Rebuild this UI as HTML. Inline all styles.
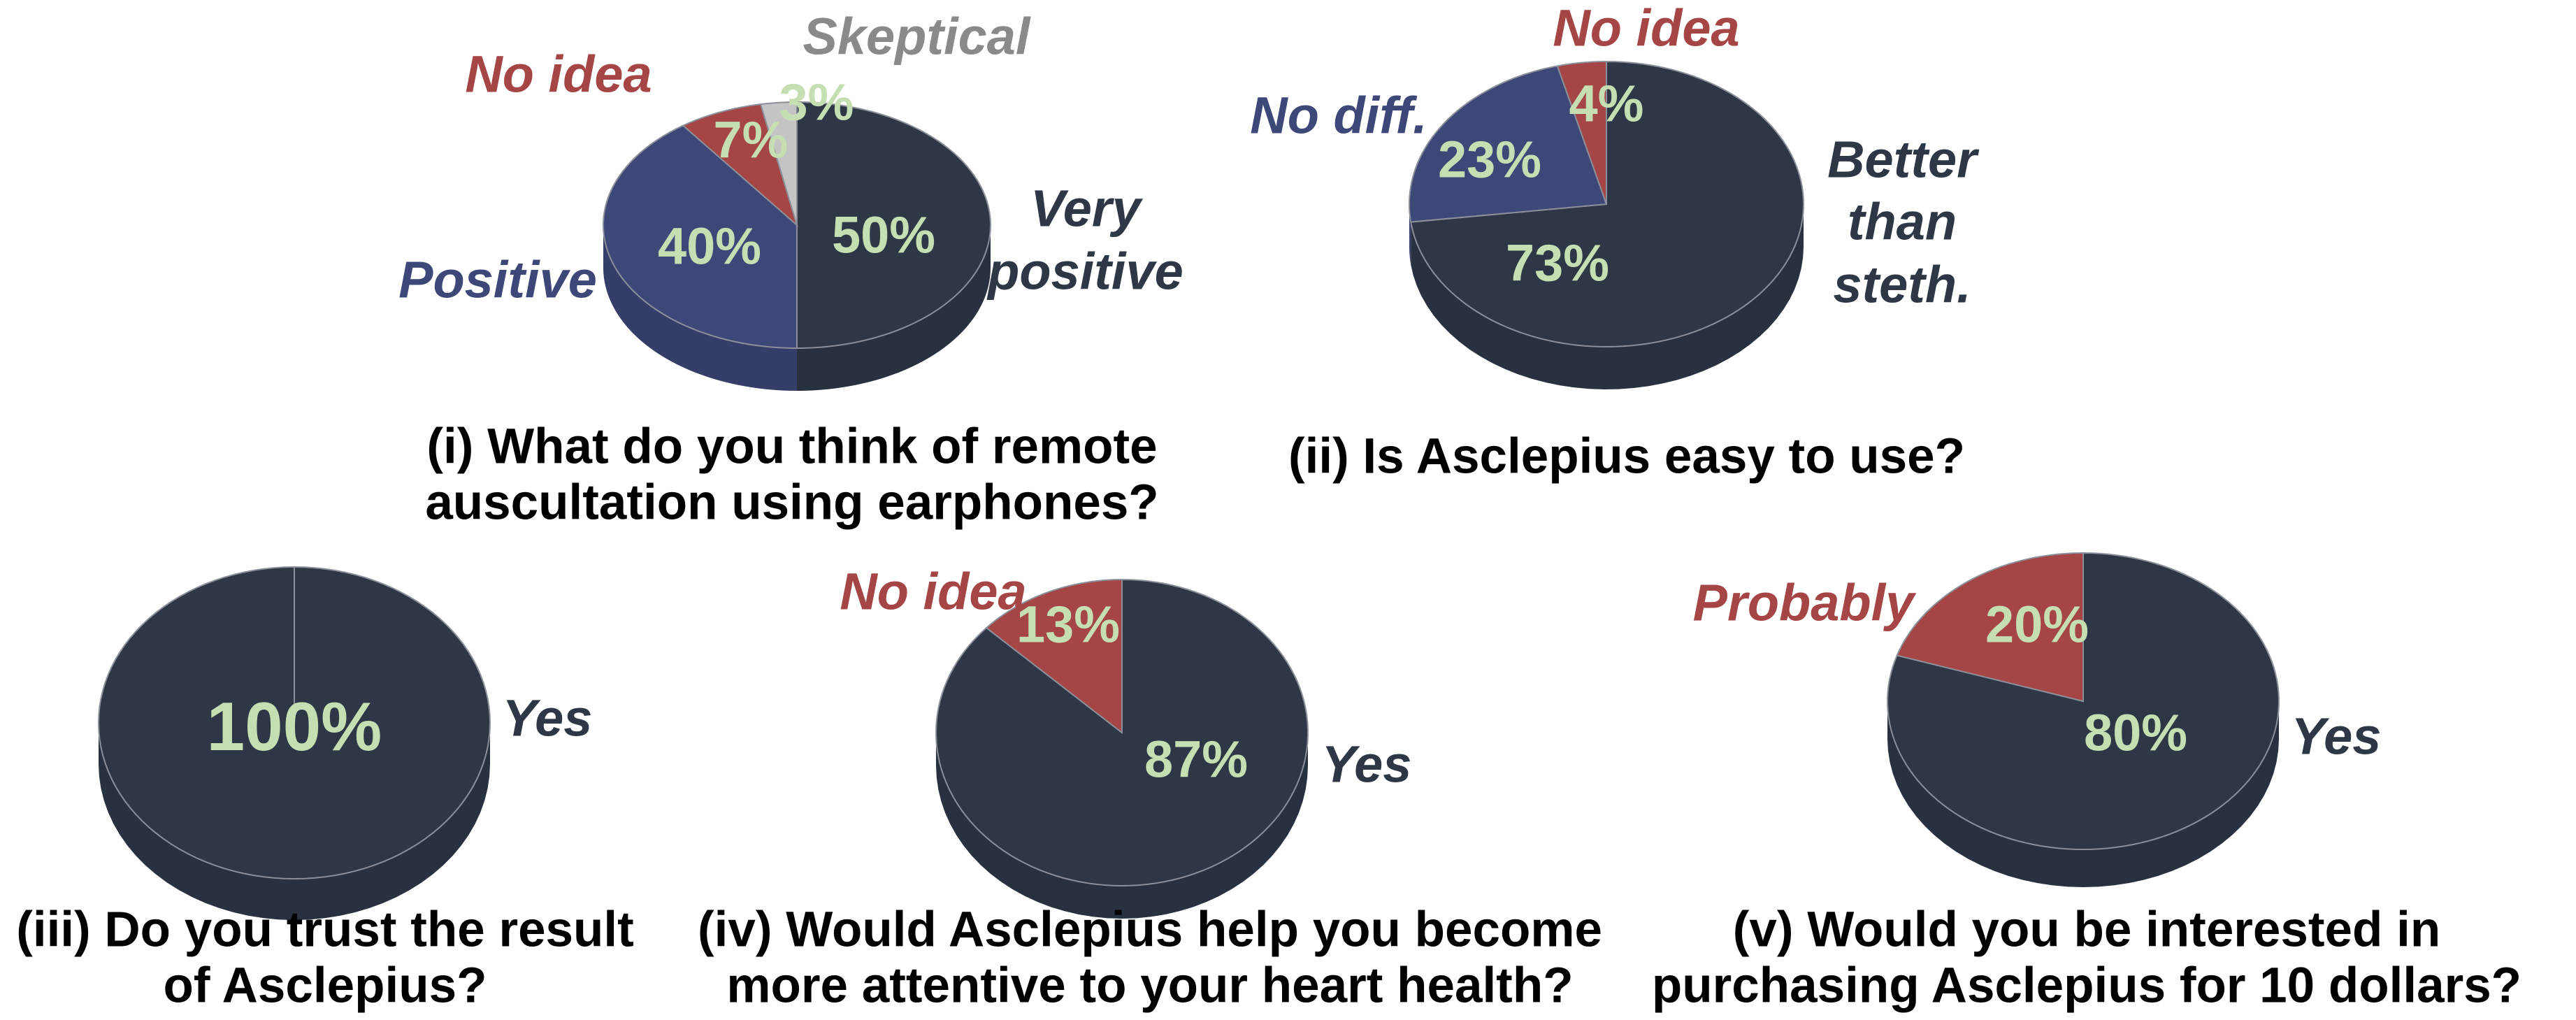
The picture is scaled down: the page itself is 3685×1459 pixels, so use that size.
<!DOCTYPE html>
<html><head><meta charset="utf-8"><style>
body{margin:0;background:#fff}
svg{display:block}
text{font-family:"Liberation Sans Narrow","Liberation Sans",sans-serif;font-weight:bold}
.lab{font-style:italic;font-size:74px}
.pct{fill:#c5dfb2;font-size:74px;font-style:normal}
.ttl{fill:#000;font-size:71px;font-family:"Liberation Sans",sans-serif}
</style></head><body>
<svg id="chart" width="3685" height="1459" viewBox="0 0 3685 1459">
<g id="pies"></g>
<g id="texts" text-anchor="middle" dominant-baseline="central">
<text class="lab" x="1311" y="52" fill="#8a8a8a">Skeptical</text>
<text class="lab" x="799" y="106" fill="#a54545">No idea</text>
<text class="lab" x="712" y="400" fill="#3d4878">Positive</text>
<text class="lab" x="1553" y="298" fill="#2d3746">Very</text>
<text class="lab" x="1553" y="388" fill="#2d3746">positive</text>
<text class="lab" x="2355" y="40" fill="#a54545">No idea</text>
<text class="lab" x="1915" y="165" fill="#3d4878">No diff.</text>
<text class="lab" x="2721" y="228" fill="#2d3746">Better</text>
<text class="lab" x="2721" y="317" fill="#2d3746">than</text>
<text class="lab" x="2721" y="407" fill="#2d3746">steth.</text>
<text class="lab" x="783" y="1027" fill="#2d3746">Yes</text>
<text class="lab" x="1335" y="846" fill="#a54545">No idea</text>
<text class="lab" x="1955" y="1093" fill="#2d3746">Yes</text>
<text class="lab" x="2580" y="862" fill="#a54545">Probably</text>
<text class="lab" x="3342" y="1053" fill="#2d3746">Yes</text>
<text class="pct" x="1168" y="146">3%</text>
<text class="pct" x="1074" y="200">7%</text>
<text class="pct" x="1015" y="352">40%</text>
<text class="pct" x="1264" y="336">50%</text>
<text class="pct" x="2298" y="148">4%</text>
<text class="pct" x="2131" y="228">23%</text>
<text class="pct" x="2228" y="376">73%</text>
<text class="pct" x="421" y="1039" style="font-size:98px">100%</text>
<text class="pct" x="1528" y="893">13%</text>
<text class="pct" x="1711" y="1086">87%</text>
<text class="pct" x="2914" y="893">20%</text>
<text class="pct" x="3055" y="1048">80%</text>
<text class="ttl" x="1133" y="639">(i) What do you think of remote</text>
<text class="ttl" x="1133" y="719">auscultation using earphones?</text>
<text class="ttl" x="2327" y="653">(ii) Is Asclepius easy to use?</text>
<text class="ttl" x="465" y="1330">(iii) Do you trust the result</text>
<text class="ttl" x="465" y="1410">of Asclepius?</text>
<text class="ttl" x="1645" y="1330">(iv) Would Asclepius help you become</text>
<text class="ttl" x="1645" y="1410">more attentive to your heart health?</text>
<text class="ttl" x="2985" y="1330">(v) Would you be interested in</text>
<text class="ttl" x="2985" y="1410">purchasing Asclepius for 10 dollars?</text>
</g>
</svg>
<script>
const pieIValues=[50,40,7,3];
const pieIIValues=[73,23,4];
const pieIIIValues=[100];
const pieIVValues=[87,13];
const pieVValues=[80,20];
const pieINames=['very-positive','positive','no-idea','skeptical'];
const pieIINames=['better','no-diff','no-idea'];
const pieIIINames=['yes'];
const pieIVNames=['yes','no-idea'];
const pieVNames=['yes','probably'];
const TOP={dark:'#2d3746',blue:'#3d4878',red:'#a54545',gray:'#c4c4c4'};
const SIDE={dark:'#283140',blue:'#343e68',red:'#8a3a3a',gray:'#a0a0a0'};
const NS='http://www.w3.org/2000/svg';
const g=document.getElementById('pies');
function pt(p,a){return [p.cx+p.rx*Math.sin(a),p.cy-p.ry*Math.cos(a)];}
function mk(tag,attrs){const e=document.createElementNS(NS,tag);for(const k in attrs)e.setAttribute(k,attrs[k]);return e;}
function drawPie(id,p,vals,names,cols){
  const grp=mk('g',{});
  
  
  g.appendChild(grp);
  const tot=vals.reduce((a,b)=>a+b,0);
  let acc=0;const angs=[];
  vals.forEach(v=>{const a0=acc/tot*2*Math.PI;acc+=v;angs.push([a0,acc/tot*2*Math.PI]);});
  angs.forEach((ab,i)=>{
    let a0=Math.max(ab[0],Math.PI/2),a1=Math.min(ab[1],Math.PI*1.5);
    if(a1<=a0)return;
    const n=40;let d='';
    for(let k=0;k<=n;k++){const a=a0+(a1-a0)*k/n;const q=pt(p,a);d+=(k?'L':'M')+q[0]+' '+q[1];}
    for(let k=n;k>=0;k--){const a=a0+(a1-a0)*k/n;const q=pt(p,a);d+='L'+q[0]+' '+(q[1]+p.d);}
    const e=mk('path',{d:d+'Z',fill:SIDE[cols[i]]});
    
    
    grp.appendChild(e);
  });
  angs.forEach((ab,i)=>{
    const n=120;let d='M'+p.cx+' '+p.cy;
    for(let k=0;k<=n;k++){const a=ab[0]+(ab[1]-ab[0])*k/n;const q=pt(p,a);d+='L'+q[0]+' '+q[1];}
    const e=mk('path',{d:d+'Z',fill:TOP[cols[i]],stroke:'#8a8f99','stroke-width':2});
    
    
    grp.appendChild(e);
  });
}
drawPie('i',{cx:1140,cy:322,rx:277,ry:176,d:61},pieIValues,pieINames,['dark','blue','red','gray']);
drawPie('ii',{cx:2298,cy:292,rx:282,ry:204,d:61},pieIIValues,pieIINames,['dark','blue','red']);
drawPie('iii',{cx:421,cy:1034,rx:280,ry:223,d:59},pieIIIValues,pieIIINames,['dark']);
drawPie('iv',{cx:1605,cy:1048,rx:266,ry:219,d:47},pieIVValues,pieIVNames,['dark','red']);
drawPie('v',{cx:2980,cy:1003,rx:280,ry:212,d:54},pieVValues,pieVNames,['dark','red']);
</script>
</body></html>
